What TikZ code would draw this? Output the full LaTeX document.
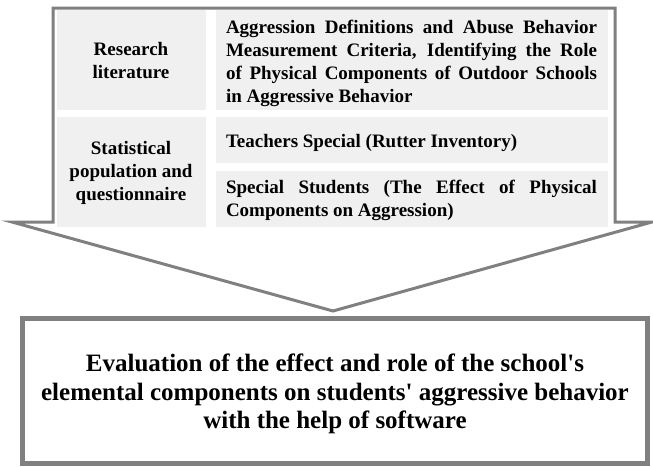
\documentclass[tikz,border=0pt]{standalone}
\usepackage{fontspec}
\setmainfont{Liberation Serif}
\newcommand\sq{\XeTeXglyph\XeTeXglyphindex "quotesingle"\relax}
\definecolor{cellgray}{HTML}{F0F0F0}
\definecolor{linegray}{HTML}{808080}
\begin{document}
\begin{tikzpicture}[x=1pt,y=-1pt,
  cell/.style={fill=cellgray,draw=none},
  lefttext/.style={align=center,font=\bfseries\fontsize{19}{23}\selectfont,inner sep=0pt},
  righttext/.style={align=justify,text width=371pt,font=\bfseries\fontsize{19}{23}\selectfont,inner sep=0pt},
  bigtext/.style={align=center,font=\bfseries\fontsize{25}{28.5}\selectfont,inner sep=0pt}]
\useasboundingbox (0,0) rectangle (653,466);
% arrow outline
\draw[linegray,line width=3pt,line join=miter,fill=white]
  (53,8) -- (615,8) -- (615,222) -- (652,222) -- (333,311) -- (12,222) -- (53,222) -- cycle;
% cells
\fill[cellgray] (57,10) rectangle (206,110);
\fill[cellgray] (216,10) rectangle (608,110);
\fill[cellgray] (57,117) rectangle (206,227);
\fill[cellgray] (216,117) rectangle (608,163);
\fill[cellgray] (216,171) rectangle (608,227);
% texts
\node[lefttext] (rl) at (131,61) {Research\\literature};
\node[lefttext] (sp) at (131,173) {Statistical\\population and\\questionnaire};
\node[righttext] (ad) at (411.5,63) {Aggression Definitions and Abuse Behavior\linebreak Measurement Criteria, Identifying the Role\linebreak of Physical Components of Outdoor Schools\linebreak in Aggressive Behavior};
\node[righttext] (ts) at (411.5,143) {Teachers Special (Rutter Inventory)};
\node[righttext] (ss) at (411.5,200) {Special Students (The Effect of Physical\linebreak Components on Aggression)};
% bottom box
\draw[linegray,line width=5pt] (22.5,318) rectangle (647.5,463.5);
\coordinate (bc) at (335,394);
\node[bigtext] (ev) at (bc) {Evaluation of the effect and role of the school\sq s\\elemental components on students\sq{} aggressive behavior\\with the help of software};
\end{tikzpicture}
\end{document}
